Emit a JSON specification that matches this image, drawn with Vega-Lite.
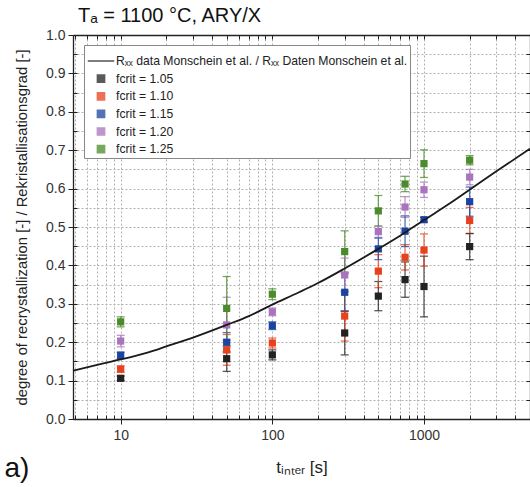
{
  "$schema": "https://vega.github.io/schema/vega-lite/v6.json",
  "width": 457,
  "height": 384,
  "autosize": {"type": "none"},
  "padding": {"left": 73, "top": 35, "right": 0, "bottom": 68},
  "background": "white",
  "title": {
    "text": "Tₐ = 1100 °C, ARY/X",
    "anchor": "start",
    "frame": "group",
    "fontSize": 20,
    "fontWeight": "normal",
    "font": "Liberation Sans",
    "color": "#111",
    "baseline": "alphabetic",
    "dx": 5,
    "dy": 14,
    "offset": 0
  },
  "config": {
    "font": "Liberation Sans",
    "view": {"stroke": null},
    "axis": {
      "labelFont": "Liberation Sans",
      "titleFont": "Liberation Sans",
      "labelColor": "#333",
      "titleColor": "#222",
      "domainColor": "#222",
      "tickColor": "#222",
      "titleFontWeight": "normal"
    }
  },
  "datasets": {
    "points": [
      {"series": "fcrit = 1.05", "t": 10, "y": 0.106, "err": 0.006},
      {"series": "fcrit = 1.05", "t": 50, "y": 0.157, "err": 0.033},
      {"series": "fcrit = 1.05", "t": 100, "y": 0.167, "err": 0.013},
      {"series": "fcrit = 1.05", "t": 300, "y": 0.224, "err": 0.057},
      {"series": "fcrit = 1.05", "t": 500, "y": 0.320, "err": 0.038},
      {"series": "fcrit = 1.05", "t": 750, "y": 0.363, "err": 0.046},
      {"series": "fcrit = 1.05", "t": 1000, "y": 0.345, "err": 0.079},
      {"series": "fcrit = 1.05", "t": 2000, "y": 0.449, "err": 0.034},
      {"series": "fcrit = 1.10", "t": 10, "y": 0.130, "err": 0.008},
      {"series": "fcrit = 1.10", "t": 50, "y": 0.180, "err": 0.040},
      {"series": "fcrit = 1.10", "t": 100, "y": 0.198, "err": 0.013},
      {"series": "fcrit = 1.10", "t": 300, "y": 0.268, "err": 0.065},
      {"series": "fcrit = 1.10", "t": 500, "y": 0.385, "err": 0.043},
      {"series": "fcrit = 1.10", "t": 750, "y": 0.421, "err": 0.033},
      {"series": "fcrit = 1.10", "t": 1000, "y": 0.440, "err": 0.042},
      {"series": "fcrit = 1.10", "t": 2000, "y": 0.517, "err": 0.034},
      {"series": "fcrit = 1.15", "t": 10, "y": 0.166, "err": 0.008},
      {"series": "fcrit = 1.15", "t": 50, "y": 0.200, "err": 0.025},
      {"series": "fcrit = 1.15", "t": 100, "y": 0.243, "err": 0.010},
      {"series": "fcrit = 1.15", "t": 300, "y": 0.330, "err": 0.049},
      {"series": "fcrit = 1.15", "t": 500, "y": 0.443, "err": 0.028},
      {"series": "fcrit = 1.15", "t": 750, "y": 0.489, "err": 0.040},
      {"series": "fcrit = 1.15", "t": 1000, "y": 0.519, "err": 0.006},
      {"series": "fcrit = 1.15", "t": 2000, "y": 0.566, "err": 0.038},
      {"series": "fcrit = 1.20", "t": 10, "y": 0.203, "err": 0.015},
      {"series": "fcrit = 1.20", "t": 50, "y": 0.245, "err": 0.072},
      {"series": "fcrit = 1.20", "t": 100, "y": 0.279, "err": 0.010},
      {"series": "fcrit = 1.20", "t": 300, "y": 0.375, "err": 0.044},
      {"series": "fcrit = 1.20", "t": 500, "y": 0.488, "err": 0.015},
      {"series": "fcrit = 1.20", "t": 750, "y": 0.552, "err": 0.027},
      {"series": "fcrit = 1.20", "t": 1000, "y": 0.597, "err": 0.020},
      {"series": "fcrit = 1.20", "t": 2000, "y": 0.630, "err": 0.020},
      {"series": "fcrit = 1.25", "t": 10, "y": 0.253, "err": 0.013},
      {"series": "fcrit = 1.25", "t": 50, "y": 0.288, "err": 0.083},
      {"series": "fcrit = 1.25", "t": 100, "y": 0.325, "err": 0.014},
      {"series": "fcrit = 1.25", "t": 300, "y": 0.436, "err": 0.054},
      {"series": "fcrit = 1.25", "t": 500, "y": 0.542, "err": 0.040},
      {"series": "fcrit = 1.25", "t": 750, "y": 0.612, "err": 0.020},
      {"series": "fcrit = 1.25", "t": 1000, "y": 0.665, "err": 0.036},
      {"series": "fcrit = 1.25", "t": 2000, "y": 0.674, "err": 0.012}
    ],
    "curve": [
      {"series": "Rₓₓ data Monschein et al. / Rₓₓ Daten Monschein et al.", "t": 4.85, "y": 0.126},
      {"series": "Rₓₓ data Monschein et al. / Rₓₓ Daten Monschein et al.", "t": 7, "y": 0.141},
      {"series": "Rₓₓ data Monschein et al. / Rₓₓ Daten Monschein et al.", "t": 10, "y": 0.155},
      {"series": "Rₓₓ data Monschein et al. / Rₓₓ Daten Monschein et al.", "t": 15, "y": 0.173},
      {"series": "Rₓₓ data Monschein et al. / Rₓₓ Daten Monschein et al.", "t": 20, "y": 0.189},
      {"series": "Rₓₓ data Monschein et al. / Rₓₓ Daten Monschein et al.", "t": 30, "y": 0.212},
      {"series": "Rₓₓ data Monschein et al. / Rₓₓ Daten Monschein et al.", "t": 50, "y": 0.245},
      {"series": "Rₓₓ data Monschein et al. / Rₓₓ Daten Monschein et al.", "t": 70, "y": 0.268},
      {"series": "Rₓₓ data Monschein et al. / Rₓₓ Daten Monschein et al.", "t": 100, "y": 0.298},
      {"series": "Rₓₓ data Monschein et al. / Rₓₓ Daten Monschein et al.", "t": 150, "y": 0.330},
      {"series": "Rₓₓ data Monschein et al. / Rₓₓ Daten Monschein et al.", "t": 200, "y": 0.354},
      {"series": "Rₓₓ data Monschein et al. / Rₓₓ Daten Monschein et al.", "t": 300, "y": 0.392},
      {"series": "Rₓₓ data Monschein et al. / Rₓₓ Daten Monschein et al.", "t": 500, "y": 0.443},
      {"series": "Rₓₓ data Monschein et al. / Rₓₓ Daten Monschein et al.", "t": 700, "y": 0.478},
      {"series": "Rₓₓ data Monschein et al. / Rₓₓ Daten Monschein et al.", "t": 1000, "y": 0.518},
      {"series": "Rₓₓ data Monschein et al. / Rₓₓ Daten Monschein et al.", "t": 1500, "y": 0.563},
      {"series": "Rₓₓ data Monschein et al. / Rₓₓ Daten Monschein et al.", "t": 2000, "y": 0.597},
      {"series": "Rₓₓ data Monschein et al. / Rₓₓ Daten Monschein et al.", "t": 3000, "y": 0.645},
      {"series": "Rₓₓ data Monschein et al. / Rₓₓ Daten Monschein et al.", "t": 5000, "y": 0.704}
    ]
  },
  "resolve": {"axis": {"x": "independent", "y": "independent"}},
  "layer": [
    {
      "data": {"name": "points"},
      "mark": {"type": "errorbar", "ticks": {"size": 8, "opacity": 0.75}, "rule": {"opacity": 0.75}, "thickness": 1.3},
      "encoding": {
        "x": {
          "field": "t", "type": "quantitative",
          "scale": {"type": "log", "domain": [4.85, 5000], "nice": false},
          "axis": {
            "orient": "bottom",
            "values": [5,6,7,8,9,10,20,30,40,50,60,70,80,90,100,200,300,400,500,600,700,800,900,1000,2000,3000,4000,5000],
            "grid": true, "gridDash": [2, 2], "gridColor": "#b0b0b0", "gridWidth": 1,
            "tickSize": -4, "labels": false, "domainWidth": 1.3,
            "title": "a)", "titleFontSize": 28, "titleX": -69, "titleY": 57,
            "titleAlign": "left", "titleBaseline": "alphabetic", "titleAngle": 0, "titleColor": "#111"
          }
        },
        "y": {
          "field": "y", "type": "quantitative",
          "scale": {"domain": [0, 1], "nice": false, "zero": false},
          "axis": {
            "orient": "left",
            "values": [0,0.05,0.1,0.15,0.2,0.25,0.3,0.35,0.4,0.45,0.5,0.55,0.6,0.65,0.7,0.75,0.8,0.85,0.9,0.95,1],
            "grid": true, "gridDash": [2, 2], "gridColor": "#b0b0b0", "gridWidth": 1,
            "tickSize": -4, "labels": false, "title": null, "domainWidth": 1.3
          }
        },
        "yError": {"field": "err"},
        "color": {"field": "series", "type": "nominal"}
      }
    },
    {
      "data": {"name": "points"},
      "mark": {"type": "point", "filled": true, "opacity": 1},
      "encoding": {
        "x": {
          "field": "t", "type": "quantitative",
          "axis": {
            "orient": "top",
            "values": [5,6,7,8,9,10,20,30,40,50,60,70,80,90,100,200,300,400,500,600,700,800,900,1000,2000,3000,4000,5000],
            "grid": false, "tickSize": -4, "labels": false, "domainWidth": 1.3, "title": null
          }
        },
        "y": {
          "field": "y", "type": "quantitative",
          "axis": {
            "orient": "right",
            "values": [0,0.05,0.1,0.15,0.2,0.25,0.3,0.35,0.4,0.45,0.5,0.55,0.6,0.65,0.7,0.75,0.8,0.85,0.9,0.95,1],
            "grid": false, "tickSize": -4, "labels": false, "title": null, "domainWidth": 1.3
          }
        },
        "color": {
          "field": "series", "type": "nominal",
          "scale": {
            "domain": ["Rₓₓ data Monschein et al. / Rₓₓ Daten Monschein et al.", "fcrit = 1.05", "fcrit = 1.10", "fcrit = 1.15", "fcrit = 1.20", "fcrit = 1.25"],
            "range": ["#1a1a1a", "#222222", "#e8411d", "#1b44a0", "#a974bd", "#4b8b2b"]
          },
          "legend": {
            "title": null,
            "orient": "none",
            "legendX": 11,
            "legendY": 10,
            "strokeColor": "#888",
            "fillColor": "white",
            "padding": 2,
            "rowPadding": 3.6,
            "labelFontSize": 12.2,
            "labelFont": "Liberation Sans",
            "labelColor": "#222",
            "labelLimit": 0,
            "labelOffset": 1,
            "symbolOffset": 1,
            "encode": {
              "symbols": {
                "update": {
                  "stroke": {"scale": "color", "field": "value"},
                  "strokeWidth": [{"test": "indexof(datum.value, 'data') >= 0", "value": 1.6}, {"value": 0}]
                }
              }
            }
          }
        },
        "shape": {
          "field": "series", "type": "nominal",
          "scale": {
            "domain": ["Rₓₓ data Monschein et al. / Rₓₓ Daten Monschein et al.", "fcrit = 1.05", "fcrit = 1.10", "fcrit = 1.15", "fcrit = 1.20", "fcrit = 1.25"],
            "range": ["stroke", "square", "square", "square", "square", "square"]
          }
        },
        "size": {
          "field": "series", "type": "nominal",
          "scale": {
            "type": "ordinal",
            "domain": ["Rₓₓ data Monschein et al. / Rₓₓ Daten Monschein et al.", "fcrit = 1.05", "fcrit = 1.10", "fcrit = 1.15", "fcrit = 1.20", "fcrit = 1.25"],
            "range": [700, 52, 52, 52, 52, 52]
          }
        }
      }
    },
    {
      "data": {"name": "curve"},
      "mark": {"type": "line", "interpolate": "monotone", "strokeWidth": 1.8},
      "encoding": {
        "x": {
          "field": "t", "type": "quantitative",
          "axis": {
            "orient": "bottom", "values": [10, 100, 1000], "format": "d", "grid": false,
            "tickSize": 5, "labelFontSize": 14, "labelPadding": 4,
            "title": "tᵢₙₜₑᵣ [s]", "titleFontSize": 17, "titlePadding": 17, "domain": false
          }
        },
        "y": {
          "field": "y", "type": "quantitative",
          "axis": {
            "orient": "left",
            "values": [0,0.1,0.2,0.3,0.4,0.5,0.6,0.7,0.8,0.9,1],
            "format": ".1f", "grid": false, "tickSize": 5, "labelFontSize": 14, "labelPadding": 3,
            "title": "degree of recrystallization [-] / Rekristallisationsgrad [-]",
            "titleFontSize": 14.8, "titlePadding": 16, "domain": false
          }
        },
        "color": {"field": "series", "type": "nominal"}
      }
    }
  ]
}
